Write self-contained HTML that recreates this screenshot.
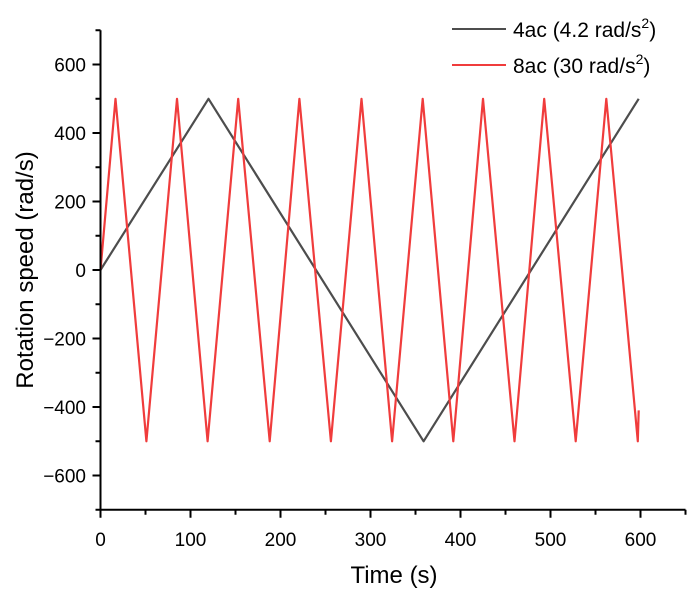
<!DOCTYPE html>
<html><head><meta charset="utf-8"><style>
body{margin:0;background:#fff}
svg{display:block;font-family:"Liberation Sans",Arial,sans-serif}
</style></head><body>
<svg id="chart" width="695" height="597" viewBox="0 0 695 597">
<g id="grid"></g>
<g id="series"></g>
<g id="axes"></g>
<g id="legend">
  <line x1="452" y1="29" x2="506" y2="29" stroke="#4d4d4d" stroke-width="2"/>
  <text x="513" y="37" font-size="21" fill="#000">4ac (4.2 rad/s<tspan dy="-9" font-size="14">2</tspan><tspan dy="9">)</tspan></text>
  <line x1="452" y1="65" x2="506" y2="65" stroke="#f03c3c" stroke-width="2"/>
  <text x="513" y="73" font-size="21" fill="#000">8ac (30 rad/s<tspan dy="-9" font-size="14">2</tspan><tspan dy="9">)</tspan></text>
</g>
<text x="394" y="583" font-size="24" text-anchor="middle">Time (s)</text>
<text transform="translate(33,270) rotate(-90)" font-size="24" text-anchor="middle">Rotation speed (rad/s)</text>
</svg>
<script>
const xTicks=[0,100,200,300,400,500,600];
const yTicks=[-600,-400,-200,0,200,400,600];
const blackT=[0,120,359,598];
const blackV=[0,500,-500,500];
const redT=[0,16.7,51,85,119,153,188,221,256,290,324,358,392,425,460,493,528,562,597,598];
const redV=[0,500,-500,500,-500,500,-500,500,-500,500,-500,500,-500,500,-500,500,-500,500,-500,-410];
const X=t=>100.5+t*0.9;
const Y=v=>270-v*0.3425;
const NS="http://www.w3.org/2000/svg";
function mk(tag,attrs,parent){const e=document.createElementNS(NS,tag);for(const k in attrs)e.setAttribute(k,attrs[k]);parent.appendChild(e);return e;}
const axes=document.getElementById('axes'),series=document.getElementById('series');
let a=mk('line',{x1:X(0),y1:Y(-700),x2:X(650),y2:Y(-700),stroke:'#000','stroke-width':2},axes);


a=mk('line',{x1:X(0),y1:Y(-700),x2:X(0),y2:Y(700),stroke:'#000','stroke-width':2},axes);


for(let t=0;t<=650;t+=50){
  const major=t%100===0;
  const l=mk('line',{x1:X(t),y1:Y(-700),x2:X(t),y2:Y(-700)+(major?8:5),stroke:'#000','stroke-width':2},axes);
  
  
}
xTicks.forEach(t=>{
  const e=mk('text',{x:X(t),y:546,'font-size':19,'text-anchor':'middle'},axes);
  e.textContent=t;
  
  
});
for(let v=-700;v<=700;v+=100){
  const major=v%200===0;
  const l=mk('line',{x1:X(0),y1:Y(v),x2:X(0)-(major?8:5),y2:Y(v),stroke:'#000','stroke-width':2},axes);
  
  
}
yTicks.forEach(v=>{
  const e=mk('text',{x:86,y:Y(v)+7,'font-size':19,'text-anchor':'end'},axes);
  e.textContent=(v<0?'\u2212'+(-v):v);
  
  
});
function line(T,V,color,name){
  const d=T.map((t,i)=>(i?'L':'M')+X(t).toFixed(1)+','+Y(V[i]).toFixed(1)).join('');
  const p=mk('path',{d:d,fill:'none',stroke:color,'stroke-width':2.2,'stroke-linejoin':'round'},series);
  
  
}
line(blackT,blackV,'#4d4d4d','series-4ac');
line(redT,redV,'#f03c3c','series-8ac');
</script>
</body></html>
